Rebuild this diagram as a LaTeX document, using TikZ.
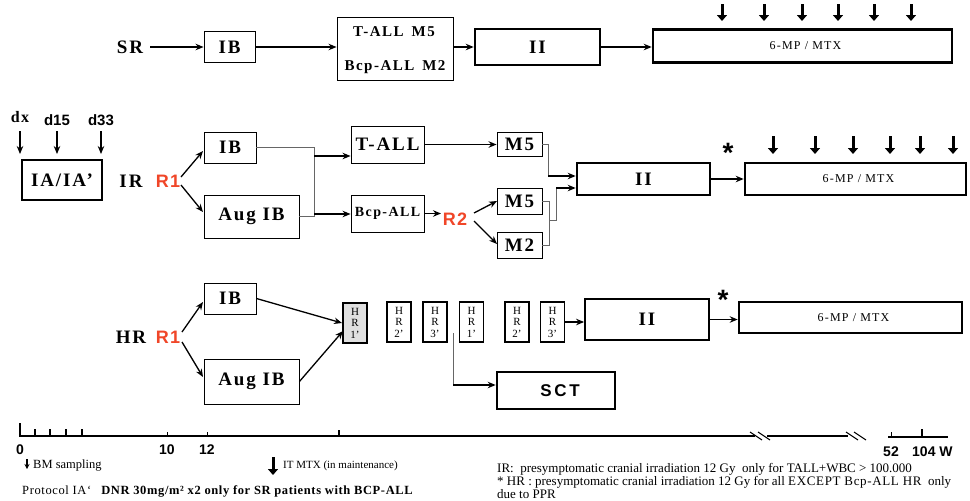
\documentclass[tikz,border=0pt]{standalone}
\usepackage{fontspec}
\setmainfont{Liberation Serif}
\setsansfont{Liberation Sans}
\newfontfamily\spf[LetterSpace=10]{Liberation Serif}
\newfontfamily\spfw[LetterSpace=5]{Liberation Serif}
\newfontfamily\sps[LetterSpace=8]{Liberation Sans}
\newfontfamily\spsw[LetterSpace=16]{Liberation Sans}
\usetikzlibrary{arrows.meta}
\definecolor{rred}{RGB}{240,70,40}
\tikzset{
 lab/.style={inner sep=1pt, font=\spf\bfseries\fontsize{19}{22}\selectfont},
 redlab/.style={inner sep=1pt, text=rred, font=\sps\bfseries\fontsize{18}{20}\selectfont},
 bx/.style={draw, line width=0.9pt, inner sep=0pt, font=\spf\bfseries\fontsize{19}{22}\selectfont},
 tbx/.style={bx, line width=2.6pt},
 mbx/.style={bx, line width=1.8pt},
 mpbox/.style={tbx, font=\spf\fontsize{12}{14}\selectfont},
 hrbox/.style={draw, line width=1.6pt, inner sep=0pt, minimum width=24, minimum height=40, align=center, font=\fontsize{11}{11.5}\selectfont},
 arr/.style={line width=1.3pt, -{Stealth[length=8pt,width=6.5pt]}},
 gl/.style={line width=0.8pt, draw=black!60},
 darr/.style={line width=3pt, -{Triangle[length=6pt,width=10pt]}},
 note/.style={inner sep=0pt, anchor=west, font=\fontsize{12.5}{14}\selectfont},
 ax/.style={inner sep=0pt, font=\sffamily\bfseries\fontsize{14}{16}\selectfont},
}
\begin{document}
\begin{tikzpicture}[x=1pt,y=-1pt]
\useasboundingbox (0,0) rectangle (970,501);

% ---------------- SR row
\node[lab] (sr) at (130,47) {SR};
\node[bx, minimum width=51, minimum height=31] (srib) at (229.5,47) {IB};
\node[bx, minimum width=116, minimum height=63] (srtm) at (395,48.5) {};
\node[inner sep=0pt, font=\spf\bfseries\fontsize{15}{17}\selectfont] (srt1) at (394,32) {T-ALL\hspace{8pt}M5};
\node[inner sep=0pt, font=\spf\bfseries\fontsize{15}{17}\selectfont] (srt2) at (395,67) {Bcp-ALL\hspace{8pt}M2};
\node[tbx, minimum width=125, minimum height=36] (srii) at (537.5,47) {II};
\node[mpbox, minimum width=299, minimum height=33] (srmp) at (802.5,46) {\hspace{6pt}6-MP / MTX};
\draw[arr] (sr.east) ++(6,0) -- (srib.west);
\draw[arr] (srib.east) -- (srib.east -| srtm.west);
\draw[arr] (srii.west -| srtm.east) -- (srii.west);
\draw[arr] (srii.east) -- (srii.east -| srmp.west);
\foreach \x in {722,764,802,838,874,911} \draw[darr] (\x,4) -- (\x,21);

% ---------------- left
\node[inner sep=0pt, font=\spf\bfseries\fontsize{16}{18}\selectfont] (dx) at (20,117) {dx};
\node[inner sep=0pt, font=\sffamily\bfseries\fontsize{15}{17}\selectfont] (d15) at (57,120) {d15};
\node[inner sep=0pt, font=\sffamily\bfseries\fontsize{15}{17}\selectfont] (d33) at (101,120) {d33};
\draw[arr, line width=1.1pt] (20,131) -- (20,154);
\draw[arr, line width=1.1pt] (57,131) -- (57,154);
\draw[arr, line width=1.1pt] (101,131) -- (101,154);
\node[tbx, minimum width=80, minimum height=40] (ia) at (62,180) {IA/IA’};

% ---------------- IR row
\node[lab] (ir) at (131,181) {IR};
\node[redlab] (r1a) at (168,181) {R1};
\node[bx, minimum width=52, minimum height=31] (irib) at (230,147.5) {IB};
\node[bx, minimum width=95, minimum height=43] (iraug) at (251.5,216.5) {Aug IB};
\node[bx, minimum width=73, minimum height=37] (irt) at (387.5,144.5) {T-ALL};
\node[bx, minimum width=73, minimum height=37, font=\spf\bfseries\fontsize{14}{16}\selectfont] (irbcp) at (387.5,213.5) {Bcp-ALL};
\node[redlab] (r2) at (455,219) {R2};
\node[bx, minimum width=45, minimum height=24] (irm5a) at (519.5,144) {M5};
\node[bx, minimum width=45, minimum height=26] (irm5b) at (519.5,201) {M5};
\node[bx, minimum width=45, minimum height=26] (irm2) at (519.5,245) {M2};
\node[tbx, minimum width=133, minimum height=32] (irii) at (643.5,179) {II};
\node[mpbox, minimum width=221, minimum height=32] (irmp) at (855.5,179) {\hspace{6pt}6-MP / MTX};
\node[inner sep=0pt, font=\sffamily\bfseries\fontsize{28}{28}\selectfont] (ast1) at (728,153) {*};

\draw[arr] (181,177) -- (203,151);
\draw[arr] (181,185) -- (203,212);
\coordinate (jb) at (314,147.5);
\coordinate (jb1) at (314,156);
\coordinate (jb2) at (314,214);
\draw[gl] (irib.east) -- (jb) -- (jb |- iraug.east) -- (iraug.east);
\draw[arr] (jb1) -- (jb1 -| irt.west);
\draw[arr] (jb2) -- (jb2 -| irbcp.west);
\draw[arr] (irt.east) -- (irt.east -| irm5a.west);
\draw[arr] (irbcp.east) -- (441,213.5);
\draw[arr] (474,213) -- (497,201);
\draw[arr] (474,221) -- (497,244);
\coordinate (ja) at (548,176);
\draw[gl] (irm5a.east) -| (ja);
\draw[arr] (ja) -- (ja -| irii.west);
\coordinate (jc) at (549,220);
\coordinate (jd) at (556,188);
\draw[gl] (irm5b.east) -| (jc |- irm2.east) -- (irm2.east);
\draw[gl] (jc) -| (jd);
\draw[arr] (jd) -- (jd -| irii.west);
\draw[arr] (irii.east) -- (irii.east -| irmp.west);
\foreach \x in {773,815,853,890,920,953} \draw[darr] (\x,136) -- (\x,154);

% ---------------- HR row
\node[lab] (hr) at (131,337) {HR};
\node[redlab] (r1b) at (168,337) {R1};
\node[bx, minimum width=52, minimum height=31] (hrib) at (230,298.5) {IB};
\node[bx, minimum width=95, minimum height=45] (hraug) at (251.5,381.5) {Aug IB};
\node[hrbox, fill=black!12, line width=2pt] (h1) at (355,323) {H\\R\\1’};
\node[hrbox] (h2) at (399,322) {H\\R\\2’};
\node[hrbox] (h3) at (435,322) {H\\R\\3’};
\node[hrbox] (h4) at (471.5,322) {H\\R\\1’};
\node[hrbox] (h5) at (517,322) {H\\R\\2’};
\node[hrbox] (h6) at (552.5,322) {H\\R\\3’};
\node[mbx, minimum width=124, minimum height=41] (hrii) at (647,319.5) {II};
\node[mpbox, minimum width=223, minimum height=31] (hrmp) at (850.5,317.5) {\hspace{6pt}6-MP / MTX};
\node[inner sep=0pt, font=\sffamily\bfseries\fontsize{28}{28}\selectfont] (ast2) at (723,300) {*};
\node[tbx, minimum width=118, minimum height=37, font=\spsw\bfseries\fontsize{17}{19}\selectfont] (sct) at (556,390.5) {\hspace{8pt}SCT};

\draw[arr] (182,332) -- (203,302);
\draw[arr] (182,342) -- (203,377);
\draw[arr] (hrib.east) -- (h1.west);
\draw[arr] (hraug.east) -- (343,331);
\draw[arr] (h6.east) -- (h6.east -| hrii.west);
\draw[arr] (hrii.east) -- (hrii.east -| hrmp.west);
\coordinate (js) at (453,333);
\coordinate (js2) at (453,385);
\draw[gl] (js) -- (js2);
\draw[arr] (js2) -- (js2 -| sct.west);

% ---------------- timeline
\draw[line width=1.8pt] (20,436) -- (352,436);
\draw[line width=1.3pt] (340,436) -- (755,436);
\draw[line width=1.3pt] (767,436) -- (848,436);
\draw[line width=1.1pt] (750,432) -- (762,440) (758,432) -- (770,440);
\draw[line width=1.1pt] (846,432) -- (858,440) (854,432) -- (866,440);
\draw[line width=2pt] (20,423) -- (20,437);
\foreach \x in {35,50,66,82} \draw[line width=1.5pt] (\x,429) -- (\x,436);
\foreach \x in {167,207} \draw[line width=0.8pt] (\x,432) -- (\x,436);
\draw[line width=1.3pt] (339,430) -- (339,436);
\draw[line width=1.1pt] (888,437) -- (948,437);
\draw[line width=0.8pt] (891,432) -- (891,437);
\draw[line width=1.8pt] (922,429) -- (922,437);
\node[ax] (t0) at (20,450) {0};
\node[ax] (t10) at (167,450) {10};
\node[ax] (t12) at (207,450) {12};
\node[ax] (t52) at (891,452) {52};
\node[ax, anchor=west] (t104) at (912,452) {104 W};

% ---------------- notes
\draw[line width=1.1pt, -{Stealth[length=5pt,width=5pt]}] (27,459) -- (27,469);
\node[note] (bm) at (33,466) {BM sampling};
\draw[darr] (273,457) -- (273,475);
\node[note, font=\fontsize{11}{13}\selectfont] (it) at (283,466) {IT MTX (in maintenance)};
\node[note, font=\spfw\fontsize{12.5}{14}\selectfont] (prot) at (22,491) {Protocol IA‘\hspace{10pt}{\bfseries DNR 30mg/m² x2 only for SR patients with BCP-ALL}};
\node[note, font=\fontsize{13}{15}\selectfont] (n1) at (497,469) {IR:\ \ presymptomatic cranial irradiation 12 Gy\ \ only for TALL+WBC > 100.000};
\node[note, font=\fontsize{13}{15}\selectfont] (n2) at (497,482) {* HR : presymptomatic cranial irradiation 12 Gy for all {\spfw EXCEPT Bcp-ALL HR}\ \ only};
\node[note, font=\fontsize{13}{15}\selectfont] (n3) at (497,494) {due to PPR};
\end{tikzpicture}
\end{document}
